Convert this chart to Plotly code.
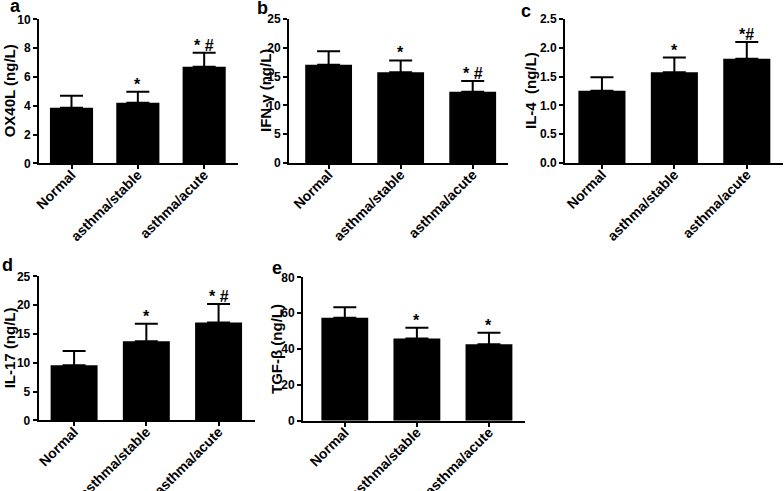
import plotly.graph_objects as go

W, H = 784, 491

categories = ["Normal", "asthma/stable", "asthma/acute"]

ox40l_mean = [3.86, 4.21, 6.71]
ox40l_err = [0.83, 0.76, 0.97]
ox40l_marks = ["", "*", "* #"]

ifng_mean = [17.07, 15.74, 12.38]
ifng_err = [2.33, 2.06, 1.86]
ifng_marks = ["", "*", "* #"]

il4_mean = [1.256, 1.574, 1.81]
il4_err = [0.234, 0.256, 0.29]
il4_marks = ["", "*", "*#"]

il17_mean = [9.55, 13.72, 16.96]
il17_err = [2.49, 3.06, 3.24]
il17_marks = ["", "*", "* #"]

tgfb_mean = [57.5, 45.8, 42.6]
tgfb_err = [5.8, 6.1, 6.5]
tgfb_marks = ["", "*", "*"]

FONT = "Arial, Liberation Sans, sans-serif"

panels = [
    dict(letter="a", title="OX40L (ng/L)", mean=ox40l_mean, err=ox40l_err, marks=ox40l_marks,
         ymax=10, dtick=2, fmt="d", xpx=(39, 238), ypx=(163.3, 19.3), xr=(-0.49, 2.51),
         lpos=(15, 6), tx=9),
    dict(letter="b", title="IFN-γ (ng/L)", mean=ifng_mean, err=ifng_err, marks=ifng_marks,
         ymax=25, dtick=5, fmt="d", xpx=(289, 508), ypx=(163, 19), xr=(-0.55, 2.49),
         lpos=(262, 8), tx=266),
    dict(letter="c", title="IL-4  (ng/L)", mean=il4_mean, err=il4_err, marks=il4_marks,
         ymax=2.5, dtick=0.5, fmt=".1f", xpx=(565, 783), ypx=(163, 19), xr=(-0.51, 2.5),
         lpos=(526, 11), tx=531),
    dict(letter="d", title="IL-17 (ng/L)", mean=il17_mean, err=il17_err, marks=il17_marks,
         ymax=25, dtick=5, fmt="d", xpx=(38.7, 254.7), ypx=(420.3, 276.3), xr=(-0.49, 2.5),
         lpos=(7, 265), tx=9),
    dict(letter="e", title="TGF-β (ng/L)", mean=tgfb_mean, err=tgfb_err, marks=tgfb_marks,
         ymax=80, dtick=20, fmt="d", xpx=(303, 525), ypx=(420.7, 277.3), xr=(-0.58, 2.5),
         lpos=(277, 268), tx=276),
]

fig = go.Figure()
annotations = []
layout_axes = {}

for i, p in enumerate(panels, start=1):
    xa = "x" if i == 1 else f"x{i}"
    ya = "y" if i == 1 else f"y{i}"
    fig.add_trace(go.Bar(
        x=categories, y=p["mean"], xaxis=xa, yaxis=ya,
        width=0.65,
        marker=dict(color="black", line=dict(width=0)),
        error_y=dict(type="data", symmetric=False, array=p["err"],
                     arrayminus=[0] * len(p["err"]),
                     color="black", thickness=2, width=11.5),
        showlegend=False, hoverinfo="skip",
    ))
    xd = [p["xpx"][0] / W, p["xpx"][1] / W]
    yd = [1 - p["ypx"][0] / H, 1 - p["ypx"][1] / H]
    axis_common = dict(showline=True, linecolor="black", linewidth=2,
                       ticks="outside", ticklen=4, tickwidth=2, tickcolor="black",
                       showgrid=False, zeroline=False, automargin=False)
    layout_axes["xaxis" if i == 1 else f"xaxis{i}"] = dict(
        axis_common, domain=xd, anchor=ya, range=list(p["xr"]),
        tickangle=-45, ticklabelstandoff=-8,
        tickfont=dict(family=FONT, size=14, color="black", weight="bold"),
    )
    layout_axes["yaxis" if i == 1 else f"yaxis{i}"] = dict(
        axis_common, domain=yd, anchor=xa, range=[0, p["ymax"]], dtick=p["dtick"],
        tickformat=p["fmt"],
        tickfont=dict(family=FONT, size=12, color="black", weight="bold"),
    )
    annotations.append(dict(
        text=p["title"], xref="paper", yref="paper",
        x=p["tx"] / W, y=(yd[0] + yd[1]) / 2, textangle=-90,
        showarrow=False, xanchor="center", yanchor="middle",
        font=dict(family=FONT, size=15, color="black", weight="bold"),
    ))
    annotations.append(dict(
        text=p["letter"], xref="paper", yref="paper",
        x=p["lpos"][0] / W, y=1 - p["lpos"][1] / H,
        showarrow=False, xanchor="center", yanchor="middle",
        font=dict(family=FONT, size=18, color="black", weight="bold"),
    ))
    for c, m, e, mk in zip(categories, p["mean"], p["err"], p["marks"]):
        if mk:
            annotations.append(dict(
                text=mk, xref=xa, yref=ya, x=c, y=m + e,
                showarrow=False, xanchor="center", yanchor="bottom", yshift=-3,
                font=dict(family=FONT, size=16, color="black", weight="bold"),
            ))

fig.update_layout(
    width=W, height=H,
    margin=dict(l=0, r=0, t=0, b=0),
    paper_bgcolor="white", plot_bgcolor="white",
    annotations=annotations,
    **layout_axes,
)

fig.write_html(
    "out.html",
    config={"displayModeBar": False},
    post_script="document.body.style.margin='0';document.body.style.overflow='hidden';",
)
